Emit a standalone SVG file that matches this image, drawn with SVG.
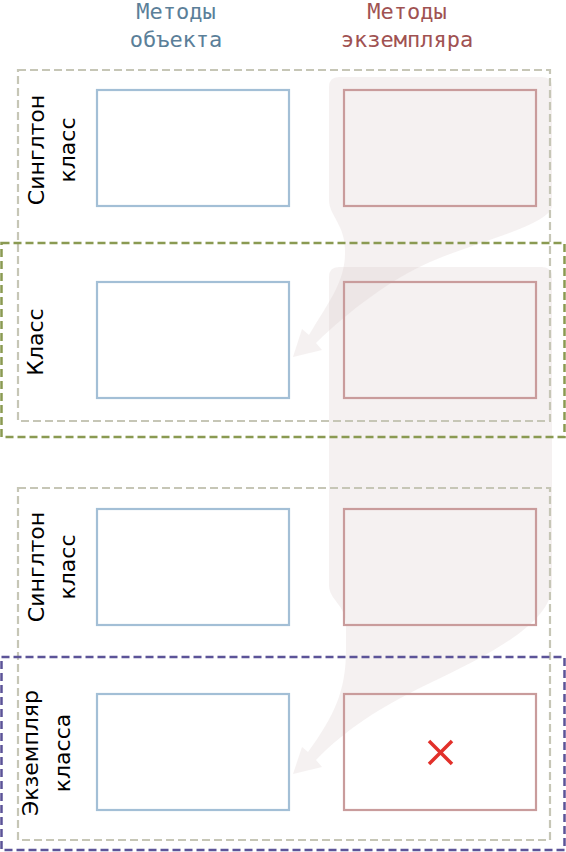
<svg xmlns="http://www.w3.org/2000/svg" width="566" height="852" viewBox="0 0 566 852">
<style>
.hdr{font-family:"DejaVu Sans Mono","Liberation Mono",monospace;font-size:22px;text-anchor:middle}
.obj{fill:#5b7f99}
.inst{fill:#a05252}
.lbl{font-family:"DejaVu Sans","Noto Sans",sans-serif;font-size:22px;fill:#000;text-anchor:middle}
.bbox{fill:none;stroke:#a3bfd6;stroke-width:2.2}
.rbox{fill:none;stroke:#c99c9c;stroke-width:2.2}
.grp{fill:none;stroke:#c6c6b6;stroke-width:2.2;stroke-dasharray:8 4}
.cls{fill:none;stroke:#8a9a52;stroke-width:2.5;stroke-dasharray:8 4}
.ins{fill:none;stroke:#5c5498;stroke-width:2.5;stroke-dasharray:8 4}
.blob{fill:#d8c6c6;fill-opacity:0.25}
</style>
<g id="headers">
<text class="hdr obj" x="176" y="19">Методы</text>
<text class="hdr obj" x="176" y="47">объекта</text>
<text class="hdr inst" x="407" y="19">Методы</text>
<text class="hdr inst" x="407" y="47">экземпляра</text>
</g>
<g id="connectors">
<path class="blob" d="M339,77 H542 Q552,77 552,87 V205 C552,225 480,240 430,262 C390,280 350,310 316,343 L322,350 L293,357 L302,329 L309,335 C330,300 346,280 345,250 C345,225 329,215 329,200 V87 Q329,77 339,77 Z"/>
<path class="blob" d="M339,267 H542 Q552,267 552,277 V585 C552,620 500,650 430,683 C380,707 345,730 316,760 L322,767 L293,774 L302,747 L308,752 C335,715 346,690 346,650 L346,625 C346,605 329,600 329,585 V277 Q329,267 339,267 Z"/>
</g>
<g id="singleton-1">
<rect class="grp" x="18" y="70" width="532" height="351"/>
<text class="lbl" x="44" y="150" transform="rotate(-90 44 150)">Синглтон</text>
<text class="lbl" x="75" y="150" transform="rotate(-90 75 150)">класс</text>
</g>
<g id="class">
<rect class="cls" x="1.5" y="243" width="563" height="194"/>
<text class="lbl" x="43" y="342" transform="rotate(-90 43 342)">Класс</text>
</g>
<g id="singleton-2">
<rect class="grp" x="18" y="488" width="532" height="352"/>
<text class="lbl" x="44" y="567" transform="rotate(-90 44 567)">Синглтон</text>
<text class="lbl" x="75" y="567" transform="rotate(-90 75 567)">класс</text>
</g>
<g id="instance">
<rect class="ins" x="1.5" y="657" width="563" height="193"/>
<text class="lbl" x="38" y="753" transform="rotate(-90 38 753)">Экземпляр</text>
<text class="lbl" x="70" y="753" transform="rotate(-90 70 753)">класса</text>
</g>
<g id="obj-methods-1"><rect class="bbox" x="97" y="90" width="192" height="116"/></g>
<g id="inst-methods-1"><rect class="rbox" x="344" y="90" width="192" height="116"/></g>
<g id="obj-methods-2"><rect class="bbox" x="97" y="282" width="192" height="116"/></g>
<g id="inst-methods-2"><rect class="rbox" x="344" y="282" width="192" height="116"/></g>
<g id="obj-methods-3"><rect class="bbox" x="97" y="509" width="192" height="116"/></g>
<g id="inst-methods-3"><rect class="rbox" x="344" y="509" width="192" height="116"/></g>
<g id="obj-methods-4"><rect class="bbox" x="97" y="694" width="192" height="116"/></g>
<g id="inst-methods-4"><rect class="rbox" x="344" y="694" width="192" height="116"/>
<path d="M429,741 L452,764 M452,741 L429,764" stroke="#e2302a" stroke-width="3.5" fill="none"/></g>
</svg>
